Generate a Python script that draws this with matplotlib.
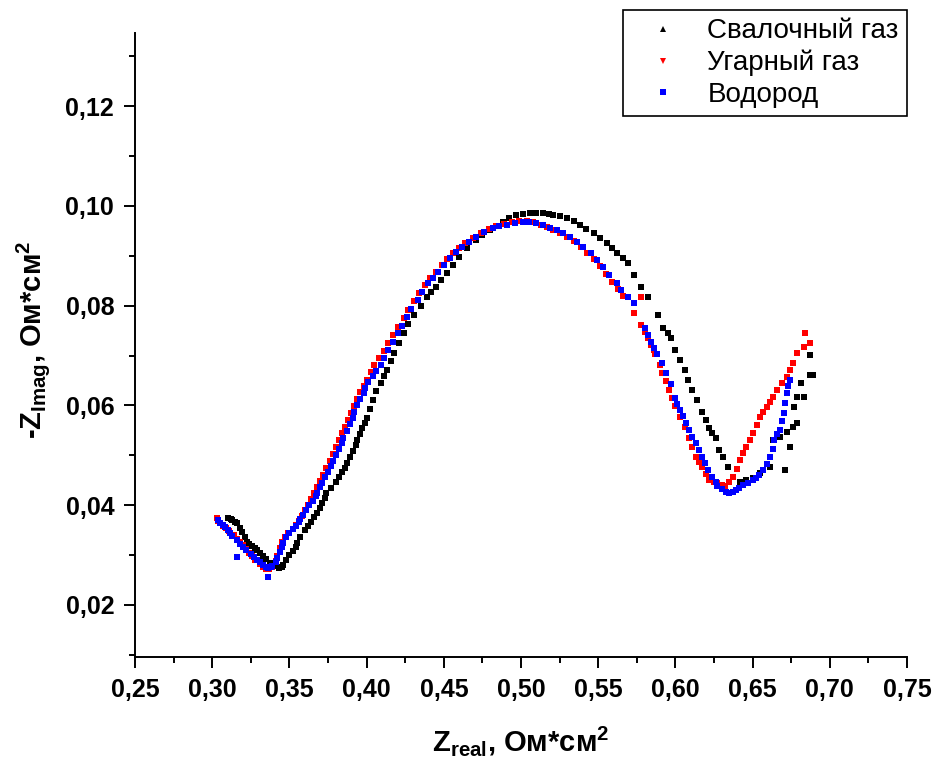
import numpy as np
import matplotlib
matplotlib.use("Agg")
import matplotlib.pyplot as plt
from matplotlib.lines import Line2D
from matplotlib.ticker import MultipleLocator, FuncFormatter

plt.rcParams['font.family'] = ['Liberation Sans', 'DejaVu Sans']
plt.rcParams['mathtext.fontset'] = 'custom'
plt.rcParams['mathtext.rm'] = 'Liberation Sans'
plt.rcParams['mathtext.bf'] = 'Liberation Sans:bold'

# Свалочный газ (landfill gas): Z_real, -Z_imag
landfill = [
    (0.310, 0.0374), (0.312, 0.0372), (0.313, 0.0370), (0.315, 0.0366), (0.316, 0.0364),
    (0.318, 0.0354), (0.319, 0.0346), (0.321, 0.0336), (0.3225, 0.0326), (0.324, 0.0322),
    (0.326, 0.0318), (0.328, 0.0313), (0.329, 0.0310), (0.331, 0.0304), (0.333, 0.0298),
    (0.335, 0.0291), (0.3375, 0.0284), (0.340, 0.0278), (0.343, 0.0274), (0.345, 0.0276),
    (0.346, 0.0280), (0.348, 0.0290), (0.350, 0.0299), (0.352, 0.0308), (0.354, 0.0316),
    (0.355, 0.0324), (0.357, 0.0336), (0.360, 0.0350), (0.362, 0.0358), (0.364, 0.0366),
    (0.366, 0.0375), (0.368, 0.0384), (0.370, 0.0394), (0.371, 0.0404), (0.373, 0.0414),
    (0.374, 0.0424), (0.377, 0.0435), (0.380, 0.0446), (0.382, 0.0456), (0.384, 0.0466),
    (0.386, 0.0475), (0.387, 0.0484), (0.389, 0.0496), (0.391, 0.0508), (0.393, 0.0520),
    (0.394, 0.0531), (0.396, 0.0543), (0.397, 0.0554), (0.399, 0.0565), (0.400, 0.0575),
    (0.402, 0.0593), (0.404, 0.0611), (0.406, 0.0628), (0.409, 0.0644), (0.411, 0.0658),
    (0.413, 0.0671), (0.416, 0.0688), (0.418, 0.0705), (0.421, 0.0725), (0.424, 0.0745),
    (0.427, 0.0763), (0.431, 0.0781), (0.435, 0.0800), (0.439, 0.0818), (0.442, 0.0828),
    (0.445, 0.0838), (0.448, 0.0852), (0.452, 0.0865), (0.456, 0.0882), (0.460, 0.0898),
    (0.465, 0.0915), (0.471, 0.0932), (0.475, 0.0942), (0.480, 0.0952), (0.484, 0.0960),
    (0.488, 0.0968), (0.492, 0.0975), (0.497, 0.0982), (0.501, 0.0984), (0.506, 0.0986),
    (0.510, 0.0986), (0.514, 0.0986), (0.518, 0.0984), (0.521, 0.0982), (0.525, 0.0979),
    (0.530, 0.0976), (0.534, 0.0969), (0.538, 0.0962), (0.542, 0.0954), (0.547, 0.0946),
    (0.551, 0.0936), (0.556, 0.0926), (0.559, 0.0916), (0.562, 0.0906), (0.566, 0.0896),
    (0.569, 0.0886), (0.573, 0.0862), (0.578, 0.0838), (0.582, 0.0818), (0.589, 0.0781),
    (0.592, 0.0755), (0.595, 0.0745), (0.597, 0.0735), (0.600, 0.0711), (0.603, 0.0691),
    (0.606, 0.0671), (0.608, 0.0651), (0.611, 0.0631), (0.614, 0.0611), (0.617, 0.0587),
    (0.620, 0.0571), (0.622, 0.0555), (0.624, 0.0545), (0.626, 0.0535), (0.628, 0.0511),
    (0.631, 0.0496), (0.634, 0.0476), (0.637, 0.0456), (0.642, 0.0446), (0.646, 0.0450),
    (0.650, 0.0454), (0.655, 0.0464), (0.661, 0.0476), (0.663, 0.0531), (0.668, 0.0537),
    (0.671, 0.0470), (0.672, 0.0547), (0.674, 0.0517), (0.676, 0.0557), (0.679, 0.0565),
    (0.677, 0.0597), (0.679, 0.0617), (0.683, 0.0617), (0.681, 0.0645), (0.687, 0.0661),
    (0.689, 0.0661), (0.687, 0.0701),
]

# Угарный газ (carbon monoxide)
co = [
    (0.303, 0.0374), (0.304, 0.0368), (0.305, 0.0364), (0.307, 0.0358), (0.309, 0.0354),
    (0.311, 0.0348), (0.314, 0.0340), (0.316, 0.0332), (0.318, 0.0326), (0.320, 0.0320),
    (0.322, 0.0312), (0.324, 0.0304), (0.326, 0.0298), (0.328, 0.0290), (0.331, 0.0282),
    (0.333, 0.0276), (0.335, 0.0272), (0.337, 0.0272), (0.339, 0.0276), (0.341, 0.0288),
    (0.342, 0.0298), (0.344, 0.0314), (0.345, 0.0326), (0.347, 0.0336), (0.349, 0.0344),
    (0.352, 0.0352), (0.354, 0.0360), (0.356, 0.0368), (0.358, 0.0378), (0.360, 0.0390),
    (0.362, 0.0400), (0.364, 0.0412), (0.366, 0.0424), (0.368, 0.0436), (0.370, 0.0448),
    (0.372, 0.0460), (0.374, 0.0474), (0.376, 0.0488), (0.378, 0.0502), (0.380, 0.0516),
    (0.382, 0.0530), (0.384, 0.0544), (0.386, 0.0556), (0.388, 0.0570), (0.390, 0.0584),
    (0.392, 0.0598), (0.394, 0.0612), (0.396, 0.0626), (0.398, 0.0638), (0.400, 0.0650),
    (0.403, 0.0666), (0.405, 0.0680), (0.408, 0.0694), (0.411, 0.0710), (0.414, 0.0726),
    (0.417, 0.0742), (0.420, 0.0758), (0.424, 0.0776), (0.427, 0.0792), (0.431, 0.0810),
    (0.434, 0.0826), (0.438, 0.0842), (0.441, 0.0856), (0.445, 0.0868), (0.449, 0.0882),
    (0.452, 0.0894), (0.456, 0.0906), (0.460, 0.0916), (0.464, 0.0926), (0.469, 0.0936),
    (0.474, 0.0946), (0.479, 0.0954), (0.484, 0.0959), (0.489, 0.0963), (0.494, 0.0967),
    (0.499, 0.0969), (0.504, 0.0969), (0.508, 0.0967), (0.513, 0.0962), (0.517, 0.0957),
    (0.521, 0.0952), (0.525, 0.0946), (0.530, 0.0938), (0.534, 0.0929), (0.539, 0.0918),
    (0.543, 0.0906), (0.547, 0.0894), (0.551, 0.0880), (0.555, 0.0864), (0.559, 0.0848),
    (0.563, 0.0834), (0.566, 0.0820), (0.578, 0.0818), (0.573, 0.0785), (0.578, 0.0761),
    (0.580, 0.0748), (0.582, 0.0736), (0.584, 0.0722), (0.586, 0.0711), (0.587, 0.0703),
    (0.590, 0.0681), (0.591, 0.0665), (0.594, 0.0648), (0.596, 0.0631), (0.598, 0.0615),
    (0.600, 0.0598), (0.603, 0.0577), (0.606, 0.0557), (0.609, 0.0535), (0.611, 0.0516),
    (0.613, 0.0496), (0.615, 0.0486), (0.617, 0.0476), (0.620, 0.0462), (0.622, 0.0450),
    (0.625, 0.0446), (0.627, 0.0444), (0.630, 0.0440), (0.632, 0.0438), (0.635, 0.0446),
    (0.637, 0.0456), (0.640, 0.0472), (0.642, 0.0490), (0.644, 0.0504), (0.646, 0.0517),
    (0.648, 0.0531), (0.650, 0.0545), (0.653, 0.0561), (0.655, 0.0577), (0.657, 0.0587),
    (0.659, 0.0597), (0.661, 0.0607), (0.663, 0.0617), (0.666, 0.0631), (0.669, 0.0645),
    (0.672, 0.0657), (0.674, 0.0671), (0.676, 0.0685), (0.679, 0.0705), (0.683, 0.0717),
    (0.687, 0.0725), (0.684, 0.0745),
]

# Водород (hydrogen)
h2 = [
    (0.304, 0.0370), (0.305, 0.0364), (0.307, 0.0360), (0.308, 0.0356), (0.310, 0.0350),
    (0.3115, 0.0344), (0.313, 0.0338), (0.316, 0.0330), (0.318, 0.0322), (0.320, 0.0316),
    (0.316, 0.0296), (0.322, 0.0310), (0.325, 0.0302), (0.327, 0.0296), (0.329, 0.0290),
    (0.331, 0.0285), (0.333, 0.0280), (0.335, 0.0276), (0.336, 0.0274), (0.336, 0.0256),
    (0.338, 0.0275), (0.339, 0.0278), (0.341, 0.0286), (0.342, 0.0294), (0.344, 0.0306),
    (0.345, 0.0316), (0.346, 0.0324), (0.348, 0.0336), (0.350, 0.0344), (0.352, 0.0352),
    (0.354, 0.0358), (0.356, 0.0366), (0.357, 0.0372), (0.359, 0.0380), (0.361, 0.0390),
    (0.363, 0.0400), (0.365, 0.0408), (0.367, 0.0418), (0.368, 0.0424), (0.370, 0.0436),
    (0.371, 0.0444), (0.373, 0.0456), (0.375, 0.0466), (0.377, 0.0478), (0.378, 0.0488),
    (0.380, 0.0500), (0.382, 0.0512), (0.384, 0.0524), (0.385, 0.0535), (0.387, 0.0548),
    (0.389, 0.0562), (0.391, 0.0574), (0.392, 0.0587), (0.394, 0.0600), (0.396, 0.0612),
    (0.398, 0.0624), (0.399, 0.0635), (0.401, 0.0646), (0.404, 0.0658), (0.406, 0.0668),
    (0.409, 0.0680), (0.411, 0.0696), (0.414, 0.0712), (0.417, 0.0728), (0.420, 0.0745),
    (0.423, 0.0760), (0.426, 0.0777), (0.429, 0.0794), (0.433, 0.0811), (0.436, 0.0828),
    (0.440, 0.0845), (0.443, 0.0856), (0.446, 0.0868), (0.450, 0.0882), (0.454, 0.0896),
    (0.458, 0.0908), (0.462, 0.0918), (0.466, 0.0928), (0.471, 0.0938), (0.476, 0.0947),
    (0.482, 0.0955), (0.486, 0.0959), (0.491, 0.0962), (0.496, 0.0965), (0.501, 0.0968),
    (0.505, 0.0968), (0.510, 0.0966), (0.514, 0.0961), (0.519, 0.0956), (0.523, 0.0951),
    (0.527, 0.0946), (0.532, 0.0937), (0.536, 0.0928), (0.540, 0.0918), (0.545, 0.0906),
    (0.549, 0.0892), (0.553, 0.0878), (0.557, 0.0862), (0.562, 0.0845), (0.565, 0.0832),
    (0.569, 0.0818), (0.573, 0.0805), (0.580, 0.0755), (0.582, 0.0742), (0.584, 0.0728),
    (0.586, 0.0716), (0.588, 0.0703), (0.591, 0.0684), (0.594, 0.0665), (0.597, 0.0643),
    (0.600, 0.0615), (0.601, 0.0603), (0.603, 0.0591), (0.605, 0.0578), (0.607, 0.0565),
    (0.609, 0.0551), (0.611, 0.0537), (0.613, 0.0524), (0.615, 0.0511), (0.617, 0.0497),
    (0.619, 0.0484), (0.621, 0.0470), (0.624, 0.0456), (0.626, 0.0446), (0.627, 0.0438),
    (0.630, 0.0432), (0.633, 0.0426), (0.635, 0.0425), (0.637, 0.0426), (0.639, 0.0430),
    (0.641, 0.0434), (0.644, 0.0440), (0.647, 0.0445), (0.650, 0.0450), (0.652, 0.0455),
    (0.654, 0.0460), (0.657, 0.0470), (0.659, 0.0482), (0.661, 0.0496), (0.663, 0.0512),
    (0.664, 0.0531), (0.666, 0.0542), (0.668, 0.0551), (0.669, 0.0568), (0.670, 0.0585),
    (0.671, 0.0605), (0.672, 0.0625), (0.673, 0.0638), (0.674, 0.0651),
]

labels = ['Свалочный газ', 'Угарный газ', 'Водород']
colors = ['#000000', '#ff0000', '#0000ff']
legend_markers = ['^', 'v', 's']

fig = plt.figure(figsize=(9.35, 7.58), dpi=100)
ax = fig.add_axes([0.1444, 0.1332, 0.8257, 0.8232])

for pts, c in zip([landfill, co, h2], colors):
    xs = [p[0] for p in pts]
    ys = [p[1] for p in pts]
    ax.plot(xs, ys, linestyle='none', marker='s', ms=4.2, mew=0, color=c)

ax.set_xlim(0.25, 0.75)
ax.set_ylim(0.0095, 0.1347)
ax.xaxis.set_major_locator(MultipleLocator(0.05))
ax.xaxis.set_minor_locator(MultipleLocator(0.025))
ax.yaxis.set_major_locator(MultipleLocator(0.02))
ax.yaxis.set_minor_locator(MultipleLocator(0.01))
comma = FuncFormatter(lambda v, p: f'{v:.2f}'.replace('.', ','))
ax.xaxis.set_major_formatter(comma)
ax.yaxis.set_major_formatter(comma)

for s in ['top', 'right']:
    ax.spines[s].set_visible(False)
for s in ['left', 'bottom']:
    ax.spines[s].set_linewidth(1.4)

ax.tick_params(which='major', direction='out', length=8, width=1.4, pad=7,
               labelsize=18)
ax.tick_params(which='minor', direction='out', length=4, width=1.4)
for lab in ax.get_xticklabels() + ax.get_yticklabels():
    lab.set_fontweight('bold')

ax.set_xlabel(r'Z$_{\mathbf{real}}$, Ом*см$^{\mathbf{2}}$', fontsize=21,
              fontweight='bold', labelpad=16)
ax.set_ylabel(r'-Z$_{\mathbf{Imag}}$, Ом*см$^{\mathbf{2}}$', fontsize=21,
              fontweight='bold')
ax.yaxis.set_label_coords(-0.108, 0.508)

handles = [Line2D([], [], linestyle='none', marker=m, ms=4.5, mew=0, color=c)
           for m, c in zip(legend_markers, colors)]
leg = fig.legend(handles, labels, loc='upper right',
                 bbox_to_anchor=(907 / 935, 1 - 10 / 758), borderaxespad=0,
                 fontsize=20, frameon=True, fancybox=False, framealpha=1,
                 edgecolor='black', borderpad=0.3, labelspacing=0.2,
                 handlelength=2.3, handletextpad=0.45)
leg.get_frame().set_linewidth(1.2)

fig.savefig('out.png', dpi=100)
